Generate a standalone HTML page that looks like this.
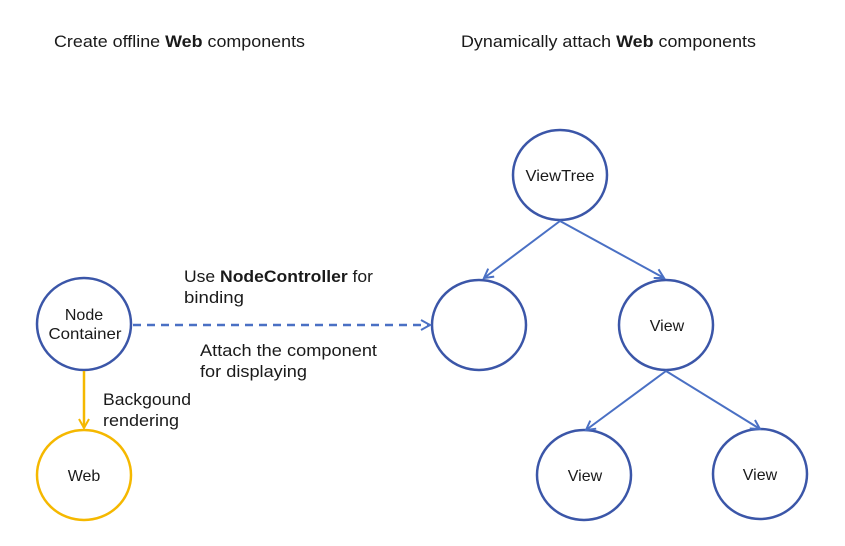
<!DOCTYPE html>
<html><head><style>
html,body{margin:0;padding:0;background:#fff;}
svg{display:block;}
text{font-family:"Liberation Sans",sans-serif;fill:#1a1a1a;}
</style></head><body>
<svg width="845" height="546" viewBox="0 0 845 546">
<defs>
<marker id="ab" markerWidth="12" markerHeight="12" refX="10" refY="6" orient="auto" markerUnits="userSpaceOnUse">
<path d="M1,1 L10,6 L1,11" fill="none" stroke="#4a70c4" stroke-width="2"/></marker>
<marker id="ay" markerWidth="12" markerHeight="12" refX="10" refY="6" orient="auto" markerUnits="userSpaceOnUse">
<path d="M1,1 L10,6 L1,11" fill="none" stroke="#f5b800" stroke-width="2"/></marker>
</defs>
<text x="54" y="47" font-size="16.5" textLength="251" lengthAdjust="spacingAndGlyphs">Create offline <tspan font-weight="bold">Web</tspan> components</text>
<text x="461" y="47" font-size="16.5" textLength="295" lengthAdjust="spacingAndGlyphs">Dynamically attach <tspan font-weight="bold">Web</tspan> components</text>

<g fill="none" stroke="#3b56a8" stroke-width="2.5">
<ellipse cx="560" cy="175" rx="47" ry="45"/>
<ellipse cx="479" cy="325" rx="47" ry="45"/>
<ellipse cx="666" cy="325" rx="47" ry="45"/>
<ellipse cx="584" cy="475" rx="47" ry="45"/>
<ellipse cx="760" cy="474" rx="47" ry="45"/>
<ellipse cx="84" cy="324" rx="47" ry="46"/>
</g>
<ellipse cx="84" cy="475" rx="47" ry="45" fill="none" stroke="#f5b800" stroke-width="2.5"/>

<g stroke="#4a70c4" stroke-width="2" fill="none">
<line x1="560" y1="221" x2="484" y2="278" marker-end="url(#ab)"/>
<line x1="560" y1="221" x2="664" y2="278" marker-end="url(#ab)"/>
<line x1="666" y1="371" x2="586" y2="430" marker-end="url(#ab)"/>
<line x1="666" y1="371" x2="760" y2="429" marker-end="url(#ab)"/>
<line x1="133" y1="325" x2="430" y2="325" stroke-dasharray="8,6" stroke-width="2.5" marker-end="url(#ab)"/>
</g>
<line x1="84" y1="371" x2="84" y2="428" stroke="#f5b800" stroke-width="2.5" marker-end="url(#ay)"/>

<g font-size="16" text-anchor="middle">
<text x="560" y="181" textLength="69" lengthAdjust="spacingAndGlyphs">ViewTree</text>
<text x="667" y="331">View</text>
<text x="585" y="481">View</text>
<text x="760" y="480">View</text>
<text x="84" y="320">Node</text>
<text x="85" y="339" textLength="73" lengthAdjust="spacingAndGlyphs">Container</text>
<text x="84" y="481">Web</text>
</g>
<g font-size="16.5">
<text x="184" y="282" textLength="189" lengthAdjust="spacingAndGlyphs">Use <tspan font-weight="bold">NodeController</tspan> for</text>
<text x="184" y="303" textLength="60" lengthAdjust="spacingAndGlyphs">binding</text>
<text x="200" y="356" textLength="177" lengthAdjust="spacingAndGlyphs">Attach the component</text>
<text x="200" y="377" textLength="107" lengthAdjust="spacingAndGlyphs">for displaying</text>
<text x="103" y="405" textLength="88" lengthAdjust="spacingAndGlyphs">Backgound</text>
<text x="103" y="426" textLength="76" lengthAdjust="spacingAndGlyphs">rendering</text>
</g>
</svg>
</body></html>
